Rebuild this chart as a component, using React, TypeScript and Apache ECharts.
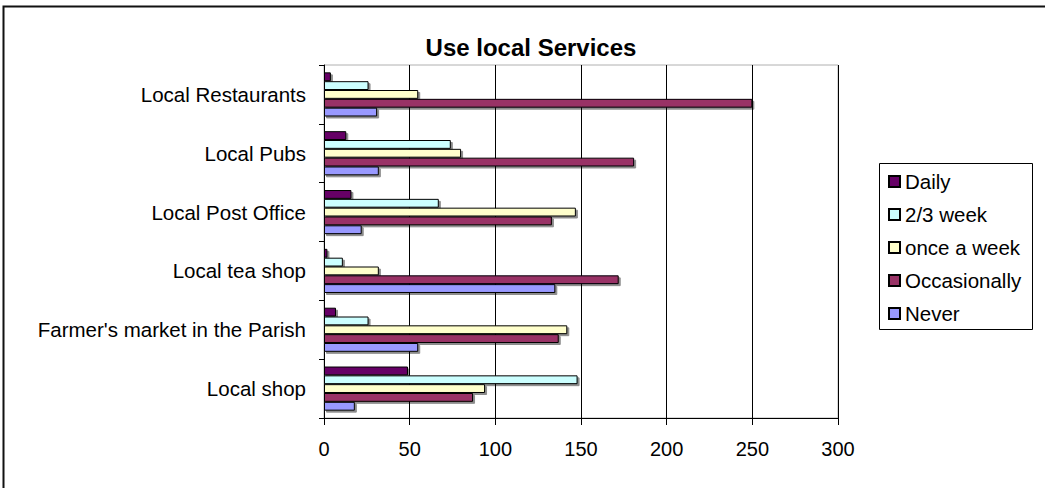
import React, { useEffect, useRef } from "react";
import * as echarts from "echarts";

const categories = [
  "Local shop",
  "Farmer's market in the Parish",
  "Local tea shop",
  "Local Post Office",
  "Local Pubs",
  "Local Restaurants",
];
const seriesNames = ["Daily", "2/3 week", "once a week", "Occasionally", "Never"];
const daily = [49, 7, 2, 16, 13, 4];
const twoThreeWeek = [148, 26, 11, 67, 74, 26];
const onceAWeek = [94, 142, 32, 147, 80, 55];
const occasionally = [87, 137, 172, 133, 181, 250];
const never = [18, 55, 135, 22, 32, 31];
const xTicks = [0, 50, 100, 150, 200, 250, 300];
const colors = ["#660066", "#CCFFFF", "#FFFFCC", "#993366", "#9999FF"];

const FONT = "'Liberation Sans', Arial, sans-serif";

export default function App() {
  const ref = useRef<HTMLDivElement>(null);
  useEffect(() => {
    if (!ref.current) return;
    const chart = echarts.init(ref.current, null, { renderer: "svg" });
    const values = [daily, twoThreeWeek, onceAWeek, occasionally, never];
    chart.setOption({
      animation: false,
      backgroundColor: "#fff",
      textStyle: { fontFamily: FONT },
      grid: {
        left: 324,
        right: 207,
        top: 65,
        bottom: 70,
        show: true,
        borderColor: "#b0b0b0",
        borderWidth: 1,
      },
      legend: {
        data: seriesNames,
        orient: "vertical",
        left: 888,
        top: 171,
        padding: 0,
        itemWidth: 11,
        itemHeight: 11,
        itemGap: 12,
        icon: "rect",
        textStyle: { fontSize: 20.5, color: "#000", fontFamily: FONT, lineHeight: 21 },
      },
      xAxis: {
        type: "value",
        min: xTicks[0],
        max: xTicks[xTicks.length - 1],
        interval: 50,
        axisLine: { show: true, lineStyle: { color: "#000", width: 1 } },
        axisTick: { show: true, length: 7, lineStyle: { color: "#000" } },
        axisLabel: { fontSize: 20, color: "#000", margin: 21, fontFamily: FONT },
        splitLine: { show: true, lineStyle: { color: "#000", width: 1 } },
      },
      yAxis: {
        type: "category",
        data: categories,
        axisLine: { show: true, lineStyle: { color: "#000", width: 1 } },
        axisTick: { show: true, length: 5, lineStyle: { color: "#000" } },
        axisLabel: { fontSize: 20.5, color: "#000", margin: 18, fontFamily: FONT },
        splitLine: { show: false },
      },
      series: seriesNames.map((name, i) => ({
        name,
        type: "bar",
        data: values[i],
        barGap: "0%",
        barCategoryGap: "25%",
        itemStyle: {
          color: colors[i],
          borderColor: "#000",
          borderWidth: 1,
          shadowColor: "rgba(0,0,0,0.45)",
          shadowOffsetX: 2,
          shadowOffsetY: 2,
          shadowBlur: 0,
        },
      })),
      graphic: [
        {
          type: "rect",
          shape: { x: 3.5, y: 6.5, width: 1100, height: 600 },
          style: { fill: "none", stroke: "#111", lineWidth: 2 },
          silent: true,
        },
        {
          type: "rect",
          shape: { x: 879.5, y: 163.5, width: 153, height: 166 },
          style: { fill: "none", stroke: "#000", lineWidth: 1 },
          silent: true,
        },
        {
          type: "text",
          x: 531,
          y: 47,
          style: {
            text: "Use local Services",
            fontSize: 24,
            fontWeight: "bold",
            fontFamily: FONT,
            fill: "#000",
            textAlign: "center",
            textVerticalAlign: "middle",
          },
        },
      ],
    });
    return () => chart.dispose();
  }, []);
  return (
    <div
      ref={ref}
      style={{ position: "fixed", left: 0, top: 0, width: 1045, height: 488 }}
    />
  );
}
